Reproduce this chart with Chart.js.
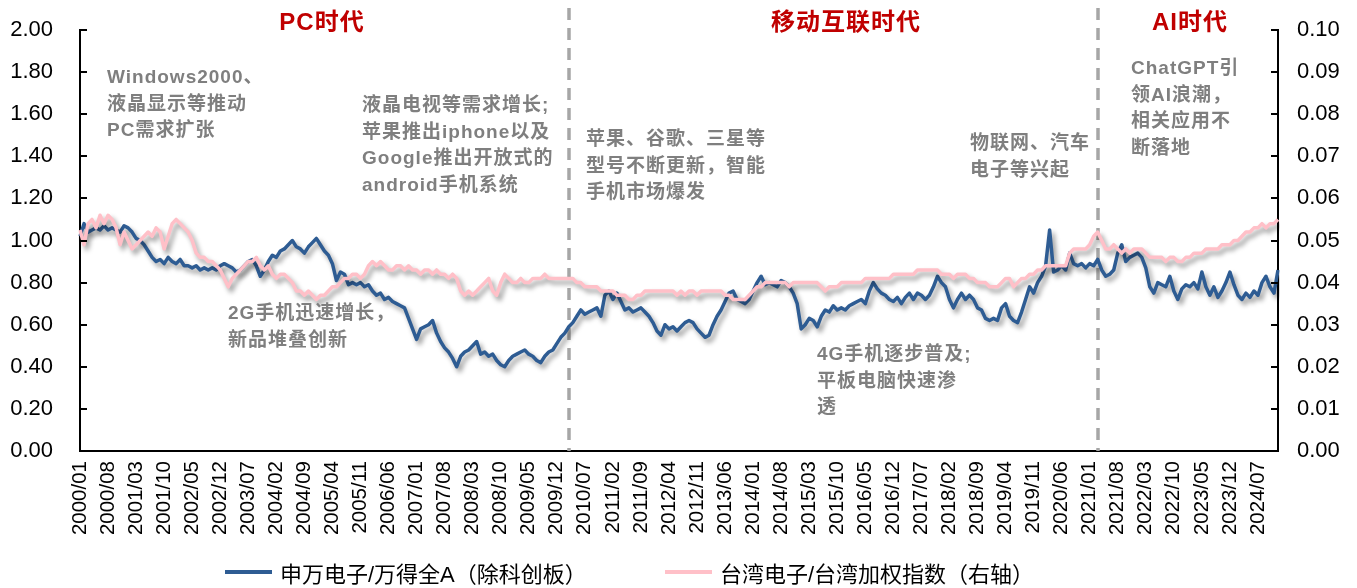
<!DOCTYPE html>
<html><head><meta charset="utf-8">
<script src="https://cdn.jsdelivr.net/npm/chart.js@4.4.1/dist/chart.umd.min.js"></script>
<style>
html,body{margin:0;padding:0;background:#fff;}
#wrap{position:relative;width:1357px;height:588px;overflow:hidden;}
#wrap canvas{position:absolute;left:0;top:0;}
.era{position:absolute;transform:translateX(-50%);color:#C00000;font:bold 24px "Liberation Sans","Noto Sans CJK SC",sans-serif;white-space:nowrap;line-height:24px;letter-spacing:1px;}
.note{position:absolute;color:#7F7F7F;font:bold 19px/26.5px "Liberation Sans","Noto Sans CJK SC",sans-serif;letter-spacing:1px;white-space:nowrap;}
.leg{position:absolute;top:557px;height:30px;font:22px "Liberation Sans","Noto Sans CJK SC",sans-serif;color:#000;white-space:nowrap;display:flex;align-items:center;}
.leg i{display:inline-block;width:47px;height:4px;margin-right:8px;}
</style></head><body>
<div id="wrap">
<canvas id="c" width="1357" height="588"></canvas>
<div class="era" style="left:322px;top:10px">PC时代</div>
<div class="era" style="left:846px;top:10px">移动互联时代</div>
<div class="era" style="left:1190px;top:10px">AI时代</div>
<div class="note" style="left:107px;top:64px">Windows2000、<br>液晶显示等推动<br>PC需求扩张</div>
<div class="note" style="left:362px;top:92px">液晶电视等需求增长;<br>苹果推出iphone以及<br>Google推出开放式的<br>android手机系统</div>
<div class="note" style="left:586px;top:126px">苹果、谷歌、三星等<br>型号不断更新，智能<br>手机市场爆发</div>
<div class="note" style="left:970px;top:130px">物联网、汽车<br>电子等兴起</div>
<div class="note" style="left:1131px;top:55px">ChatGPT引<br>领AI浪潮，<br>相关应用不<br>断落地</div>
<div class="note" style="left:228px;top:300px">2G手机迅速增长，<br>新品堆叠创新</div>
<div class="note" style="left:817px;top:341px">4G手机逐步普及;<br>平板电脑快速渗<br>透</div>
<div class="leg" style="left:225px"><i style="background:#2E5C93"></i>申万电子/万得全A（除科创板）</div>
<div class="leg" style="left:665px"><i style="background:#FFC0C8"></i>台湾电子/台湾加权指数（右轴）</div>
</div>
<script>
// categories: monthly, 2000/01 .. 2024/12
const months = [];
for (let y = 2000; y <= 2024; y++) for (let m = 1; m <= 12; m++) months.push(y + '/' + String(m).padStart(2, '0'));

const seriesNames = ['申万电子/万得全A（除科创板）', '台湾电子/台湾加权指数（右轴）'];

// 申万电子/万得全A (left axis)
const swElec = [
1.02,1.08,1.04,1.05,1.06,1.05,1.07,1.05,1.06,1.05,1.04,1.07,1.06,1.04,1.01,1.00,0.98,0.95,0.92,0.90,
0.91,0.89,0.92,0.90,0.89,0.91,0.88,0.88,0.87,0.88,0.86,0.87,0.86,0.87,0.86,0.88,0.89,0.88,0.87,0.85,
0.86,0.88,0.90,0.91,0.88,0.83,0.86,0.90,0.93,0.92,0.95,0.96,0.98,1.00,0.97,0.96,0.94,0.97,0.99,1.01,
0.98,0.95,0.93,0.89,0.81,0.85,0.84,0.79,0.80,0.79,0.80,0.78,0.79,0.76,0.74,0.75,0.72,0.73,0.71,0.70,
0.69,0.68,0.63,0.58,0.53,0.58,0.59,0.60,0.62,0.56,0.52,0.49,0.47,0.44,0.40,0.45,0.47,0.48,0.50,0.52,
0.46,0.47,0.45,0.46,0.43,0.41,0.40,0.43,0.45,0.46,0.47,0.48,0.46,0.45,0.43,0.42,0.45,0.47,0.48,0.51,
0.54,0.56,0.59,0.61,0.64,0.67,0.65,0.66,0.67,0.68,0.64,0.74,0.76,0.72,0.75,0.71,0.67,0.68,0.66,0.67,
0.68,0.66,0.64,0.61,0.57,0.55,0.60,0.58,0.59,0.57,0.59,0.61,0.62,0.61,0.58,0.56,0.54,0.55,0.60,0.64,
0.67,0.71,0.75,0.76,0.72,0.71,0.70,0.72,0.76,0.80,0.83,0.79,0.80,0.79,0.78,0.81,0.80,0.78,0.75,0.70,
0.58,0.60,0.63,0.62,0.59,0.64,0.67,0.66,0.69,0.67,0.68,0.67,0.69,0.70,0.71,0.72,0.70,0.76,0.80,0.77,
0.75,0.74,0.72,0.71,0.73,0.70,0.73,0.75,0.72,0.75,0.74,0.72,0.74,0.78,0.83,0.80,0.78,0.72,0.68,0.72,
0.75,0.72,0.74,0.72,0.68,0.67,0.63,0.62,0.63,0.62,0.68,0.70,0.64,0.62,0.61,0.66,0.72,0.78,0.75,0.80,
0.83,0.88,1.05,0.85,0.86,0.88,0.86,0.94,0.89,0.88,0.89,0.87,0.89,0.88,0.91,0.86,0.83,0.84,0.86,0.94,
0.98,0.90,0.92,0.93,0.94,0.92,0.87,0.78,0.75,0.80,0.79,0.78,0.83,0.76,0.72,0.77,0.79,0.78,0.80,0.77,
0.85,0.78,0.74,0.78,0.73,0.76,0.80,0.85,0.79,0.74,0.72,0.75,0.73,0.76,0.74,0.80,0.83,0.78,0.75,0.86
];

// 台湾电子/台湾加权指数 (right axis)
const twElec = [
0.0525,0.049,0.054,0.055,0.053,0.056,0.054,0.056,0.055,0.053,0.049,0.052,0.050,0.048,0.049,0.050,0.051,0.052,0.051,0.053,
0.052,0.048,0.051,0.054,0.055,0.054,0.053,0.052,0.050,0.047,0.046,0.046,0.045,0.045,0.044,0.043,0.041,0.039,0.041,0.042,
0.043,0.044,0.045,0.045,0.046,0.044,0.043,0.044,0.042,0.041,0.042,0.042,0.041,0.040,0.038,0.038,0.037,0.038,0.037,0.036,
0.037,0.037,0.038,0.039,0.039,0.040,0.041,0.041,0.042,0.042,0.041,0.042,0.044,0.045,0.044,0.045,0.044,0.043,0.043,0.044,
0.044,0.043,0.044,0.043,0.043,0.042,0.043,0.043,0.042,0.043,0.042,0.042,0.041,0.042,0.041,0.038,0.037,0.038,0.037,0.038,
0.039,0.040,0.041,0.038,0.037,0.040,0.042,0.041,0.040,0.040,0.041,0.040,0.040,0.041,0.041,0.041,0.042,0.041,0.041,0.041,
0.041,0.041,0.041,0.041,0.040,0.040,0.039,0.039,0.039,0.039,0.038,0.038,0.038,0.038,0.037,0.037,0.037,0.036,0.036,0.037,
0.037,0.038,0.038,0.038,0.038,0.038,0.038,0.038,0.038,0.037,0.038,0.037,0.038,0.038,0.037,0.038,0.038,0.038,0.038,0.038,
0.038,0.037,0.037,0.036,0.036,0.036,0.036,0.037,0.038,0.039,0.039,0.040,0.040,0.040,0.040,0.040,0.040,0.039,0.040,0.040,
0.040,0.040,0.040,0.040,0.040,0.039,0.038,0.039,0.039,0.039,0.040,0.040,0.040,0.040,0.040,0.040,0.041,0.041,0.041,0.041,
0.041,0.041,0.041,0.042,0.042,0.042,0.042,0.042,0.042,0.043,0.043,0.043,0.043,0.043,0.043,0.042,0.042,0.042,0.041,0.042,
0.042,0.042,0.041,0.041,0.040,0.040,0.040,0.039,0.039,0.039,0.040,0.041,0.041,0.039,0.040,0.041,0.041,0.042,0.042,0.043,
0.043,0.044,0.044,0.044,0.044,0.044,0.044,0.047,0.048,0.048,0.048,0.048,0.049,0.051,0.052,0.050,0.048,0.048,0.049,0.048,
0.047,0.048,0.047,0.048,0.048,0.048,0.047,0.046,0.046,0.046,0.046,0.045,0.046,0.046,0.045,0.045,0.046,0.046,0.047,0.047,
0.047,0.048,0.048,0.048,0.048,0.049,0.049,0.049,0.050,0.050,0.051,0.052,0.052,0.053,0.053,0.054,0.053,0.054,0.054,0.055
];

const leftTicks = [0, 0.2, 0.4, 0.6, 0.8, 1.0, 1.2, 1.4, 1.6, 1.8, 2.0];
const rightTicks = [0, 0.01, 0.02, 0.03, 0.04, 0.05, 0.06, 0.07, 0.08, 0.09, 0.10];
const eraBreaks = ['2010/03', '2021/03'];
const labelEvery = 7;

const FONT = '"Liberation Sans", Arial, sans-serif';

const shadowPlugin = {
  id: 'shadow',
  beforeDatasetDraw(chart) {
    const ctx = chart.ctx; ctx.save();
    ctx.shadowColor = 'rgba(0,0,0,0.4)'; ctx.shadowBlur = 5; ctx.shadowOffsetX = 3; ctx.shadowOffsetY = 4;
  },
  afterDatasetDraw(chart) { chart.ctx.restore(); }
};

const decoPlugin = {
  id: 'deco',
  beforeDatasetsDraw(chart) {
    const ctx = chart.ctx, x = chart.scales.x, a = chart.chartArea;
    ctx.save();
    ctx.strokeStyle = '#A6A6A6'; ctx.lineWidth = 3.5; ctx.setLineDash([12, 8]);
    eraBreaks.forEach(lbl => {
      const px = Math.round(x.getPixelForValue(months.indexOf(lbl)));
      ctx.beginPath(); ctx.moveTo(px, 8); ctx.lineTo(px, a.bottom); ctx.stroke();
    });
    ctx.restore();
  },
  afterDraw(chart) {
    const ctx = chart.ctx, yl = chart.scales.y, yr = chart.scales.y2, a = chart.chartArea;
    ctx.save(); ctx.strokeStyle = '#000'; ctx.lineWidth = 2;
    leftTicks.forEach(v => { const p = Math.round(yl.getPixelForValue(v)); ctx.beginPath(); ctx.moveTo(a.left, p); ctx.lineTo(a.left + 7, p); ctx.stroke(); });
    rightTicks.forEach(v => { const p = Math.round(yr.getPixelForValue(v)); ctx.beginPath(); ctx.moveTo(a.right, p); ctx.lineTo(a.right - 7, p); ctx.stroke(); });
    ctx.restore();
  }
};

new Chart(document.getElementById('c'), {
  type: 'line',
  data: {
    labels: months,
    datasets: [
      { label: seriesNames[0], data: swElec, yAxisID: 'y', borderColor: '#2E5C93', borderWidth: 3.5, pointRadius: 0, tension: 0, order: 1, borderJoinStyle: 'round' },
      { label: seriesNames[1], data: twElec, yAxisID: 'y2', borderColor: '#FFC0C8', borderWidth: 3.5, pointRadius: 0, tension: 0, order: 0, borderJoinStyle: 'round' }
    ]
  },
  options: {
    responsive: false, animation: false, devicePixelRatio: 1,
    layout: { padding: { top: 30, left: 0, right: 0, bottom: 0 } },
    plugins: { legend: { display: false }, tooltip: { enabled: false } },
    scales: {
      x: {
        type: 'category', offset: false,
        grid: { display: false, drawTicks: false },
        border: { display: true, color: '#000', width: 2 },
        ticks: {
          autoSkip: false, maxRotation: 90, minRotation: 90, padding: 10,
          color: '#000', font: { family: FONT, size: 20.5 },
          callback: (v, i) => (i % labelEvery === 0 ? months[i] : null)
        },
        afterFit: s => { s.height = 137; }
      },
      y: {
        position: 'left', min: 0, max: 2,
        grid: { display: false, drawTicks: false },
        border: { display: true, color: '#000', width: 2 },
        ticks: { stepSize: 0.2, padding: 27, color: '#000', font: { family: FONT, size: 22 }, callback: v => Number(v).toFixed(2) },
        afterFit: s => { s.width = 80; s.paddingTop = 12; s.paddingBottom = 12; }
      },
      y2: {
        position: 'right', min: 0, max: 0.1,
        grid: { display: false, drawTicks: false },
        border: { display: true, color: '#000', width: 2 },
        ticks: { stepSize: 0.01, padding: 19, color: '#000', font: { family: FONT, size: 22 }, callback: v => Number(v).toFixed(2) },
        afterFit: s => { s.width = 79; s.paddingTop = 12; s.paddingBottom = 12; }
      }
    }
  },
  plugins: [shadowPlugin, decoPlugin]
});
</script>
</body></html>
